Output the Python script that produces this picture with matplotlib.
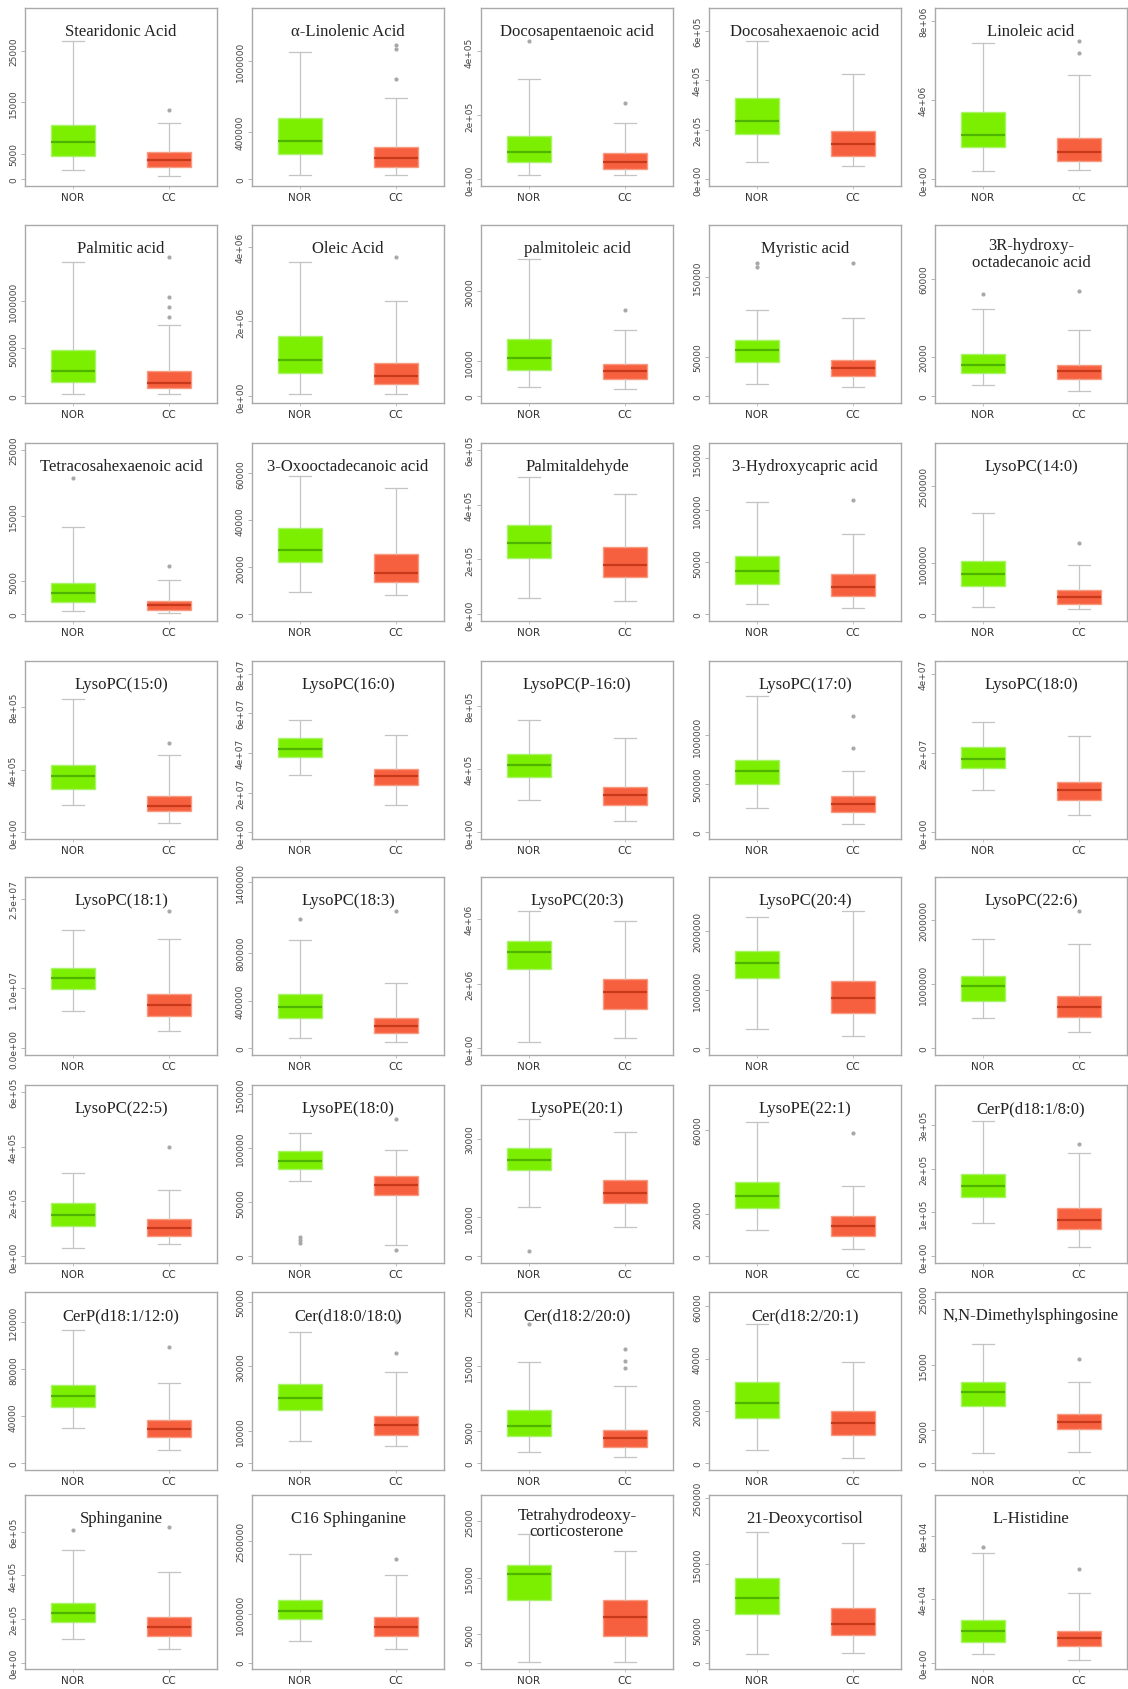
import matplotlib
matplotlib.use("Agg")
import matplotlib.pyplot as plt

# === DATA (box stats: whislo, q1, median, q3, whishi) ===
titles = [
    "Stearidonic Acid", "α-Linolenic Acid", "Docosapentaenoic acid", "Docosahexaenoic acid", "Linoleic acid",
    "Palmitic acid", "Oleic Acid", "palmitoleic acid", "Myristic acid", "3R-hydroxy-\noctadecanoic acid",
    "Tetracosahexaenoic acid", "3-Oxooctadecanoic acid", "Palmitaldehyde", "3-Hydroxycapric acid", "LysoPC(14:0)",
    "LysoPC(15:0)", "LysoPC(16:0)", "LysoPC(P-16:0)", "LysoPC(17:0)", "LysoPC(18:0)",
    "LysoPC(18:1)", "LysoPC(18:3)", "LysoPC(20:3)", "LysoPC(20:4)", "LysoPC(22:6)",
    "LysoPC(22:5)", "LysoPE(18:0)", "LysoPE(20:1)", "LysoPE(22:1)", "CerP(d18:1/8:0)",
    "CerP(d18:1/12:0)", "Cer(d18:0/18:0)", "Cer(d18:2/20:0)", "Cer(d18:2/20:1)", "N,N-Dimethylsphingosine",
    "Sphinganine", "C16 Sphinganine", "Tetrahydrodeoxy-\ncorticosterone", "21-Deoxycortisol", "L-Histidine",
]

nor_box = [
    (1800, 4500, 7300, 10500, 26800), (37000, 218000, 325000, 517000, 1073000),
    (15000, 54000, 85000, 135000, 313000), (70000, 185000, 235000, 328000, 557000),
    (420000, 1650000, 2260000, 3370000, 6860000),
    (30000, 150000, 270000, 480000, 1400000), (60000, 620000, 985000, 1610000, 3580000),
    (2690, 7640, 11070, 16500, 39300), (15200, 43300, 58000, 70600, 109000),
    (5850, 12000, 16100, 21700, 44700),
    (470, 1890, 3260, 4790, 13300), (9560, 22350, 27300, 36600, 58600),
    (61000, 207000, 261000, 326000, 500000), (10400, 29000, 41800, 55900, 108000),
    (145000, 548000, 781000, 1041000, 1977000),
    (172000, 279000, 358000, 429000, 850000), (2.91e7, 3.8e7, 4.19e7, 4.76e7, 5.64e7),
    (206000, 350000, 425000, 495000, 707000), (254000, 504000, 635000, 746000, 1404000),
    (1.06e7, 1.61e7, 1.86e7, 2.14e7, 2.79e7),
    (6.28e6, 9.84e6, 11.67e6, 13.34e6, 19.8e6), (87000, 258000, 352000, 457000, 913000),
    (210000, 2450000, 2980000, 3320000, 4250000), (323000, 1188000, 1443000, 1657000, 2234000),
    (468000, 743000, 971000, 1127000, 1713000),
    (31000, 109000, 152000, 194000, 303000), (69100, 80500, 88400, 97600, 114000),
    (12700, 21900, 24600, 27600, 35000), (12300, 22900, 28700, 35000, 63800),
    (76000, 136000, 161000, 188000, 307000),
    (30500, 48100, 57500, 66600, 113000), (7000, 16600, 20100, 24600, 40800),
    (1770, 4260, 5810, 8300, 15750), (5200, 17200, 23100, 31000, 53400),
    (1640, 8700, 10800, 12400, 18100),
    (107000, 188000, 229000, 274000, 519000), (451000, 884000, 1060000, 1277000, 2225000),
    (30, 11000, 15600, 17300, 22700), (13000, 74000, 97800, 128000, 199000),
    (5500, 12700, 20200, 26900, 69200),
]

cc_box = [
    (600, 2400, 3800, 5400, 11000), (37000, 105000, 179000, 277000, 684000),
    (15000, 33000, 55000, 82000, 176000), (55000, 95000, 142000, 196000, 427000),
    (450000, 950000, 1380000, 2080000, 5260000),
    (30000, 85000, 140000, 265000, 741000), (60000, 333000, 539000, 896000, 2550000),
    (2210, 5070, 7260, 9170, 18900), (11800, 25300, 36200, 46200, 99100),
    (2950, 8900, 12700, 16100, 33600),
    (220, 725, 1385, 2045, 5290), (8140, 13800, 17700, 25600, 53600),
    (49000, 137000, 179000, 244000, 439000), (6500, 17400, 26400, 39200, 77000),
    (100000, 210000, 340000, 483000, 957000),
    (59000, 136000, 166000, 230000, 493000), (1.38e7, 2.37e7, 2.83e7, 3.17e7, 4.93e7),
    (75000, 170000, 234000, 287000, 594000), (88000, 209000, 296000, 372000, 635000),
    (0.45e7, 0.82e7, 1.08e7, 1.27e7, 2.43e7),
    (2.95e6, 5.4e6, 7.23e6, 9.06e6, 18.3e6), (50000, 130000, 192000, 258000, 551000),
    (310000, 1210000, 1750000, 2160000, 3950000), (210000, 606000, 849000, 1149000, 2336000),
    (260000, 483000, 639000, 816000, 1625000),
    (46000, 75000, 103000, 136000, 240000), (10800, 56800, 66000, 73700, 98300),
    (7600, 13600, 16100, 19500, 31600), (3500, 9800, 14500, 18900, 33100),
    (21000, 62000, 83000, 110000, 236000),
    (11500, 22800, 29600, 37000, 68300), (5400, 8700, 11800, 14700, 28400),
    (1050, 2600, 4000, 5190, 11900), (2200, 10800, 15400, 20100, 38900),
    (1740, 5200, 6300, 7500, 12300),
    (62000, 122000, 165000, 210000, 416000), (275000, 545000, 735000, 939000, 1785000),
    (30, 4710, 8100, 11000, 19700), (14000, 42600, 59000, 83000, 182000),
    (1400, 10600, 15400, 20200, 44100),
]

nor_out = [
    [], [], [431000], [], [],
    [], [], [], [167000, 163000], [52400],
    [20670], [], [], [], [],
    [], [], [], [], [],
    [], [1084000], [], [], [],
    [], [18000, 15000, 12000], [1300], [], [],
    [], [], [21600], [], [],
    [608000], [], [], [], [73000],
]

cc_out = [
    [13400], [1130000, 1101000, 848000], [238000], [], [6980000, 6370000],
    [1457000, 1040000, 930000, 830000], [3730000], [24600], [167000], [53600],
    [7320], [], [], [110000], [1379000],
    [568000], [], [], [1197000, 867000], [],
    [22.9e6], [1155000], [], [], [2144000],
    [400000], [127000, 5600], [], [58300], [256000],
    [98700], [44200, 34200], [17700, 15900, 14700], [], [21700, 15900],
    [621000], [2124000], [], [], [59400],
]

# upper end of the plotted data range (R: ylim = c(0, top))
y_top = [
    32000, 1.39e6, 515000, 665000, 8.3e6,
    1.72e6, 4.4e6, 47000, 207000, 84000,
    25000, 70000, 600000, 158000, 3.2e6,
    1.05e6, 8.3e7, 1.04e6, 1.7e6, 4.15e7,
    2.75e7, 1.385e6, 5.1e6, 2.8e6, 2.57e6,
    600000, 152000, 42000, 78000, 375000,
    140000, 51000, 25500, 63000, 25000,
    740000, 3.3e6, 28500, 245000, 102000,
]

y_ticks = [
    ["0", "5000", "15000", "25000"], ["0", "400000", "1000000"], ["0e+00", "2e+05", "4e+05"],
    ["0e+00", "2e+05", "4e+05", "6e+05"], ["0e+00", "4e+06", "8e+06"],
    ["0", "500000", "1000000"], ["0e+00", "2e+06", "4e+06"], ["0", "10000", "30000"],
    ["0", "50000", "150000"], ["0", "20000", "60000"],
    ["0", "5000", "15000", "25000"], ["0", "20000", "40000", "60000"], ["0e+00", "2e+05", "4e+05", "6e+05"],
    ["0", "50000", "100000", "150000"], ["0", "1000000", "2500000"],
    ["0e+00", "4e+05", "8e+05"], ["0e+00", "2e+07", "4e+07", "6e+07", "8e+07"], ["0e+00", "4e+05", "8e+05"],
    ["0", "500000", "1000000"], ["0e+00", "2e+07", "4e+07"],
    ["0.0e+00", "1.0e+07", "2.5e+07"], ["0", "400000", "800000", "1400000"], ["0e+00", "2e+06", "4e+06"],
    ["0", "1000000", "2000000"], ["0", "1000000", "2000000"],
    ["0e+00", "2e+05", "4e+05", "6e+05"], ["0", "50000", "100000", "150000"], ["0", "10000", "30000"],
    ["0", "20000", "60000"], ["0e+00", "1e+05", "2e+05", "3e+05"],
    ["0", "40000", "80000", "120000"], ["0", "10000", "30000", "50000"], ["0", "5000", "15000", "25000"],
    ["0", "20000", "40000", "60000"], ["0", "5000", "15000", "25000"],
    ["0e+00", "2e+05", "4e+05", "6e+05"], ["0", "1000000", "2500000"], ["0", "5000", "15000", "25000"],
    ["0", "50000", "150000", "250000"], ["0e+00", "4e+04", "8e+04"],
]

groups = ["NOR", "CC"]

# === STYLE / LAYOUT ===
W, H = 1128, 1690
col_left = [25, 252, 481, 709, 935]
row_top = [9, 226, 444, 662, 878, 1086, 1293, 1496]
row_h = [178, 178, 178, 178, 178, 178, 178, 174]
pw = 192

fill = ["#7CEE00", "#F6603F"]
edge = ["#A8F466", "#F89A80"]
med_col = ["#4FB400", "#C8381A"]
grey = "#c4c4c4"


def stats(box, out, label):
    lo, q1, med, q3, hi = box
    return dict(label=label, whislo=lo, q1=q1, med=med, q3=q3, whishi=hi, fliers=out)


fig = plt.figure(figsize=(W / 100, H / 100), dpi=100)
fig.patch.set_facecolor("white")

for i, title in enumerate(titles):
    r, c = divmod(i, 5)
    ph = row_h[r]
    ax = fig.add_axes([col_left[c] / W, 1 - (row_top[r] + ph) / H, pw / W, ph / H])

    bp = ax.bxp([stats(nor_box[i], nor_out[i], groups[0]),
                 stats(cc_box[i], cc_out[i], groups[1])],
                positions=[1, 2], widths=0.46, patch_artist=True,
                whiskerprops=dict(color=grey, lw=0.9),
                capprops=dict(color=grey, lw=0.9),
                flierprops=dict(marker="o", ms=2, mfc="#a8a8a8", mec="#a8a8a8"))
    for k in range(2):
        bp["boxes"][k].set_facecolor(fill[k])
        bp["boxes"][k].set_edgecolor(edge[k])
        bp["boxes"][k].set_linewidth(1.0)
        bp["medians"][k].set_color(med_col[k])
        bp["medians"][k].set_linewidth(1.6)

    top = y_top[i]
    ax.set_ylim(-0.04 * top, 1.04 * top)
    ax.set_xlim(0.5, 2.5)

    labels = y_ticks[i]
    ax.set_yticks([float(s) for s in labels])
    ax.set_yticklabels(labels, rotation=90, va="center")
    ax.tick_params(axis="y", length=3, width=0.6, color="#aaaaaa", labelsize=6.5,
                   labelcolor="#444444", pad=2)
    ax.tick_params(axis="x", length=2, width=0.6, color="#bbbbbb", labelsize=7.5,
                   labelcolor="#333333", pad=2)

    for s in ax.spines.values():
        s.set_color("#a9a9a9")
        s.set_linewidth(1.0)

    ty = 0.84 if "\n" in title else 0.87
    ax.text(0.5, ty, title, transform=ax.transAxes, ha="center", va="center",
            fontsize=12, family="Liberation Serif", color="#222222", linespacing=1.05)

fig.savefig("out.png", dpi=100)
